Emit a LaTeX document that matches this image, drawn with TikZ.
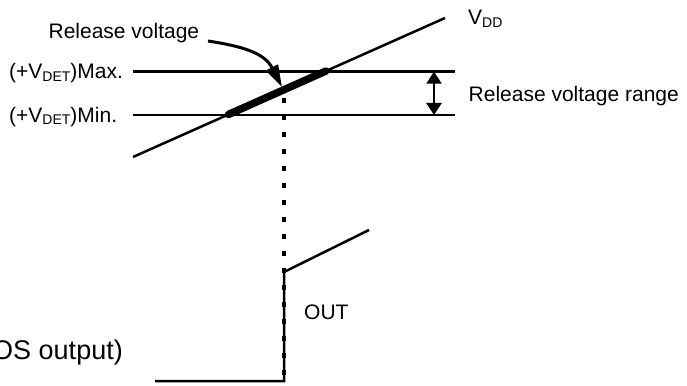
\documentclass[tikz,border=0pt]{standalone}
\usepackage{fontspec}
\setmainfont{Liberation Sans}
\usetikzlibrary{arrows.meta}
\newcommand{\subtxt}[1]{\raisebox{-2.5pt}{\fontsize{14}{15}\selectfont #1}}
\begin{document}
\begin{tikzpicture}[x=1pt,y=-1pt,
  lbl/.style={inner sep=0pt, font=\fontsize{21}{24}\selectfont, anchor=base west},
  wire/.style={line width=2.5pt},
  thickseg/.style={line width=7.5pt, line cap=round},
  dotline/.style={line width=3.2pt, dash pattern=on 5pt off 12pt, dash phase=8.7pt},
  callout/.style={line width=3pt, -{Triangle[length=22pt,width=13pt]}},
  rangearrow/.style={line width=2.5pt, {Triangle[length=12pt,width=15pt]}-{Triangle[length=12pt,width=15pt]}}]
\useasboundingbox (0,0) rectangle (687,385);
% coordinates
\coordinate (vddA) at (133,157);
\coordinate (vddB) at (445,18);
\coordinate (maxL) at (133,71.7);
\coordinate (maxR) at (455,71.7);
\coordinate (minL) at (133,115);
\coordinate (minR) at (455,115);
\coordinate (relLo) at (228.5,114.45);
\coordinate (relHi) at (326,71.02);
\coordinate (dotTop) at (284,89.7);
\coordinate (outBot) at (284,381);
\coordinate (outTop) at (284,272);
\coordinate (outEnd) at (369,230);
\coordinate (lowStart) at (155,381);
\coordinate (rngTop) at (434,71.7);
\coordinate (rngBot) at (434,115);
\coordinate (arrStart) at (208,41);
\coordinate (arrTip) at (282,87);
% labels
\node[lbl] (relv) at (48.4,38.3) {Release voltage};
\node[lbl] (maxl) at (9,78.5) {(+V\subtxt{DET})Max.};
\node[lbl] (minl) at (9,122) {(+V\subtxt{DET})Min.};
\node[lbl] (vdd) at (468,25) {V\subtxt{DD}};
\node[lbl] (rng) at (468.5,101.7) {Release voltage range};
\node[lbl] (out) at (304,319) {OUT};
\node[lbl, anchor=base east, font=\fontsize{27}{30}\selectfont] (cmos) at (123,359) {OS output)};
% lines
\draw[wire] (maxL) -- (maxR);
\draw[wire] (minL) -- (minR);
\draw[wire] (vddA) -- (vddB);
\draw[thickseg] (relLo) -- (relHi);
\draw[dotline] (dotTop) -- (outBot);
\draw[wire, line join=miter] (lowStart) -- (outBot) -- (outTop) -- (outEnd);
\draw[rangearrow] (rngTop) -- (rngBot);
\draw[callout] (arrStart) .. controls (240,46) and (264,52) .. (arrTip);
\end{tikzpicture}
\end{document}
